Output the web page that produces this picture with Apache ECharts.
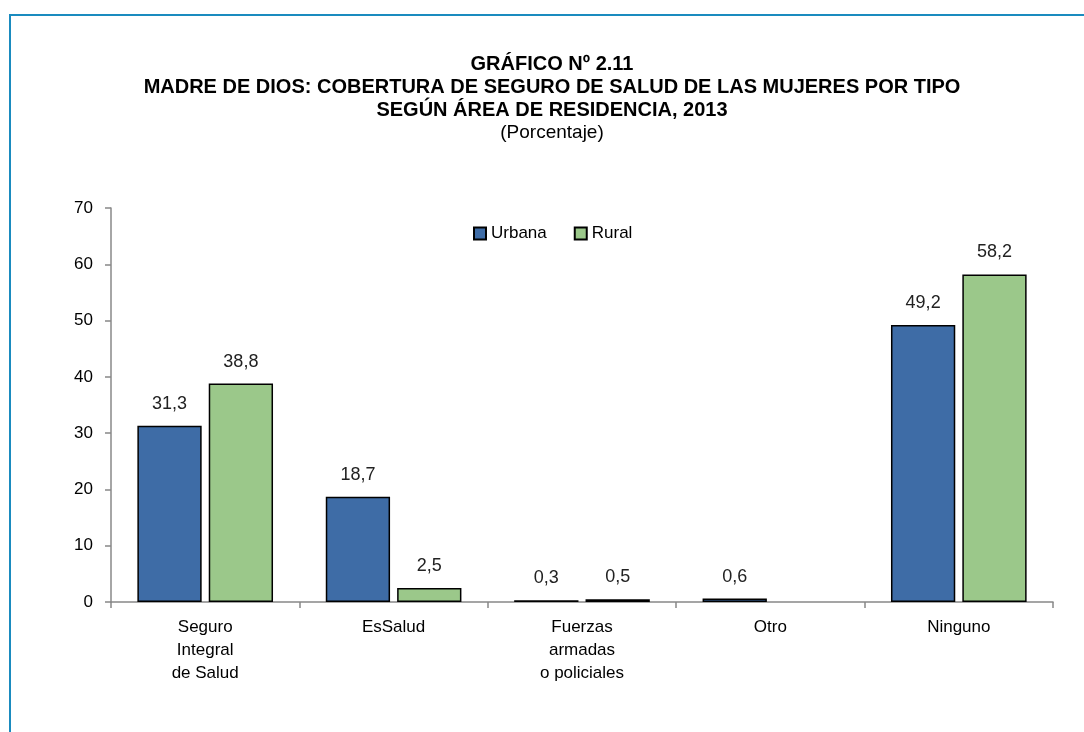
<!DOCTYPE html>
<html>
<head>
<meta charset="utf-8">
<script src="https://cdn.jsdelivr.net/npm/echarts@6/dist/echarts.min.js"></script>
<style>
html,body{margin:0;padding:0;background:#fff;}
#frame{position:absolute;left:9px;top:14px;width:1100px;height:760px;border-left:2px solid #1a8bbf;border-top:2px solid #1a8bbf;}
#chart{position:absolute;left:0;top:0;width:1084px;height:732px;}
</style>
</head>
<body>
<div id="frame"></div>
<div id="chart"></div>
<script>
var FONT = '"Liberation Sans",Arial,sans-serif';
var titleLines = ['GRÁFICO Nº 2.11', 'MADRE DE DIOS: COBERTURA DE SEGURO DE SALUD DE LAS MUJERES POR TIPO', 'SEGÚN ÁREA DE RESIDENCIA, 2013'];
var subtitle = '(Porcentaje)';
var categories = ['Seguro\nIntegral\nde Salud', 'EsSalud', 'Fuerzas\narmadas\no policiales', 'Otro', 'Ninguno'];
var urbana = [31.3, 18.7, 0.3, 0.6, 49.2];
var rural = [38.8, 2.5, 0.5, null, 58.2];
var seriesNames = ['Urbana', 'Rural'];
var yTicks = [0, 10, 20, 30, 40, 50, 60, 70];

var chart = echarts.init(document.getElementById('chart'), null, {renderer: 'canvas'});
function fmt(p){ return p.value == null ? '' : p.value.toFixed(1).replace('.', ','); }

var titleGraphics = titleLines.map(function(t, i){
  return {type: 'text', x: 552, y: 64 + i * 23, style: {text: t, fontFamily: FONT, fontSize: 20, fontWeight: 'bold', fill: '#000', textAlign: 'center', textVerticalAlign: 'middle'}};
});
titleGraphics.push({type: 'text', x: 552, y: 64 + titleLines.length * 23, style: {text: subtitle, fontFamily: FONT, fontSize: 19, fill: '#000', textAlign: 'center', textVerticalAlign: 'middle'}});

chart.setOption({
  animation: false,
  textStyle: {fontFamily: FONT},
  graphic: titleGraphics,
  legend: {
    data: seriesNames,
    left: 473,
    top: 225,
    padding: 0,
    itemWidth: 12,
    itemHeight: 12,
    itemGap: 27,
    icon: 'rect',
    textStyle: {fontFamily: FONT, fontSize: 17, color: '#000'}
  },
  grid: {left: 111, right: 31, top: 208, bottom: 130, containLabel: false},
  xAxis: {
    type: 'category',
    data: categories,
    axisLine: {lineStyle: {color: '#888', width: 1.5}},
    axisTick: {show: true, length: 6, lineStyle: {color: '#888', width: 1.5}},
    axisLabel: {fontFamily: FONT, fontSize: 17, color: '#000', lineHeight: 23, margin: 14},
    splitLine: {show: false}
  },
  yAxis: {
    type: 'value',
    min: yTicks[0],
    max: yTicks[yTicks.length - 1],
    interval: 10,
    axisLine: {show: true, lineStyle: {color: '#888', width: 1.5}},
    axisTick: {show: true, length: 6, lineStyle: {color: '#888', width: 1.5}},
    axisLabel: {fontFamily: FONT, fontSize: 17, color: '#000', margin: 18},
    splitLine: {show: false}
  },
  series: [
    {
      name: seriesNames[0], type: 'bar', data: urbana,
      barGap: '11%', barCategoryGap: '28%',
      itemStyle: {color: '#3e6ca6', borderColor: '#000', borderWidth: 1.5},
      label: {show: true, position: 'top', distance: 13, formatter: fmt, fontFamily: FONT, fontSize: 18, color: '#222'}
    },
    {
      name: seriesNames[1], type: 'bar', data: rural,
      itemStyle: {color: '#9bc88a', borderColor: '#000', borderWidth: 1.5},
      label: {show: true, position: 'top', distance: 13, formatter: fmt, fontFamily: FONT, fontSize: 18, color: '#222'}
    }
  ]
});
</script>
</body>
</html>
